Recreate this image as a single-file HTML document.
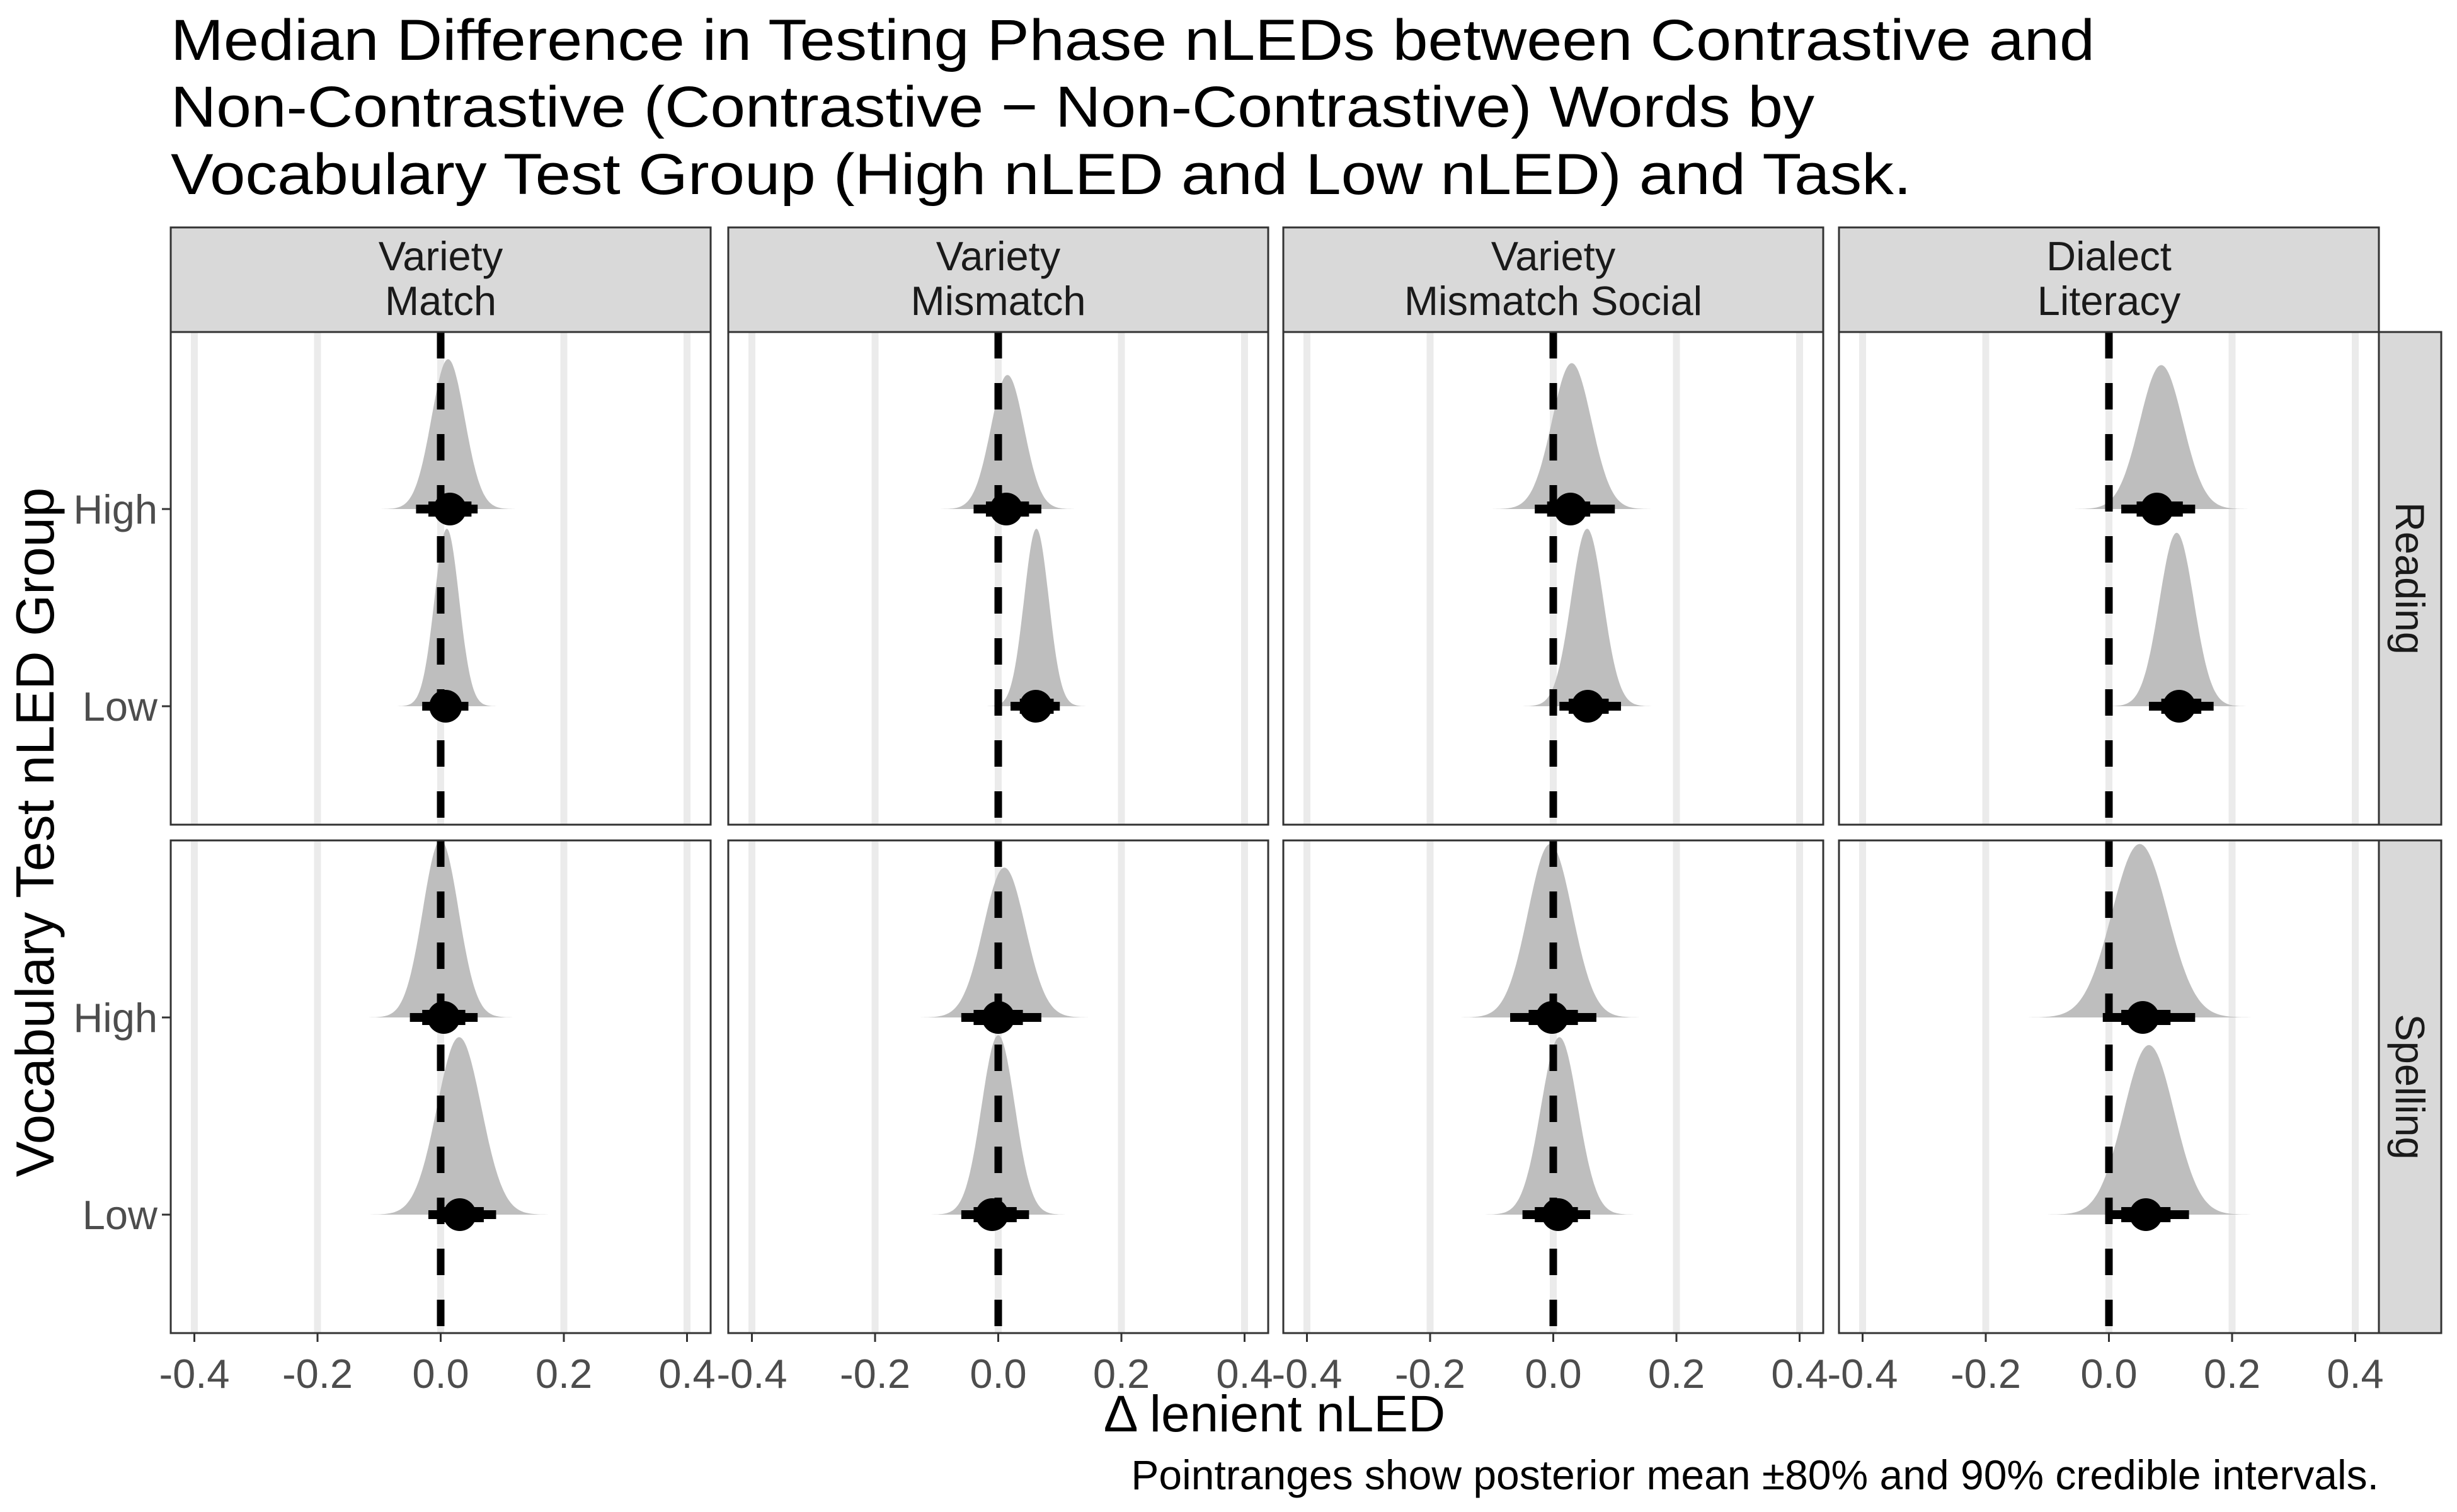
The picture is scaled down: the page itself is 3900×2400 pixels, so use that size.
<!DOCTYPE html>
<html><head><meta charset="utf-8"><style>body{margin:0;background:#fff}svg{display:block}text{font-family:"Liberation Sans",sans-serif}</style></head>
<body>
<svg id="chart" width="3900" height="2400" viewBox="0 0 3900 2400" xmlns="http://www.w3.org/2000/svg">
<rect width="3900" height="2400" fill="#fff"/>
<g font-size="92" fill="#000">
<text x="271" y="95" textLength="3054" lengthAdjust="spacingAndGlyphs">Median Difference in Testing Phase nLEDs between Contrastive and</text>
<text x="271" y="201" textLength="2609" lengthAdjust="spacingAndGlyphs">Non-Contrastive (Contrastive − Non-Contrastive) Words by</text>
<text x="271" y="308" textLength="2763" lengthAdjust="spacingAndGlyphs">Vocabulary Test Group (High nLED and Low nLED) and Task.</text>
</g>
<g id="plot"></g>
<text x="2023" y="2272" font-size="82" text-anchor="middle">Δ lenient nLED</text>
<text x="3776" y="2364" font-size="66" text-anchor="end">Pointranges show posterior mean ±80% and 90% credible intervals.</text>
<text transform="translate(85,1321) rotate(-90)" font-size="85" text-anchor="middle">Vocabulary Test nLED Group</text>
</svg>
<script>
const columns = ["Variety|Match","Variety|Mismatch","Variety|Mismatch Social","Dialect|Literacy"];
const rows = ["Reading","Spelling"];
const groups = ["High","Low"];
const xTicks = [-0.4,-0.2,0,0.2,0.4];
const xTickLabels = ["-0.4","-0.2","0.0","0.2","0.4"];
// order: row, column, group (High, Low)
const pointMean = [[[0.015,0.008],[0.013,0.061],[0.028,0.056],[0.078,0.114]],
                   [[0.005,0.031],[0.0,-0.01],[-0.002,0.008],[0.055,0.06]]];
const lo80 = [[[-0.02,-0.01],[-0.02,0.035],[-0.01,0.025],[0.045,0.085]],
              [[-0.03,0.0],[-0.04,-0.04],[-0.04,-0.03],[0.02,0.02]]];
const hi80 = [[[0.05,0.03],[0.05,0.09],[0.06,0.09],[0.12,0.15]],
              [[0.04,0.07],[0.04,0.03],[0.04,0.04],[0.1,0.1]]];
const lo90 = [[[-0.04,-0.03],[-0.04,0.02],[-0.03,0.01],[0.02,0.065]],
              [[-0.05,-0.02],[-0.06,-0.06],[-0.07,-0.05],[-0.01,0.0]]];
const hi90 = [[[0.06,0.045],[0.07,0.1],[0.1,0.11],[0.14,0.17]],
              [[0.06,0.09],[0.07,0.05],[0.07,0.06],[0.14,0.13]]];
const densPeak = [[[0.012,0.01],[0.015,0.062],[0.03,0.055],[0.085,0.11]],
                  [[0.0,0.03],[0.01,0.0],[-0.005,0.01],[0.05,0.065]]];
const densSd = [[[0.027,0.02],[0.027,0.02],[0.032,0.026],[0.035,0.028]],
                [[0.029,0.036],[0.034,0.027],[0.036,0.03],[0.045,0.041]]];
const densHeight = [[[0.76,0.9],[0.68,0.9],[0.74,0.9],[0.73,0.88]],
                    [[0.9,0.9],[0.76,0.91],[0.88,0.9],[0.88,0.86]]];

const NS="http://www.w3.org/2000/svg";
const plot=document.getElementById('plot');
const colLeft=[271,1156,2037,2919], panelW=857;
const rowTop=[527,1334], panelH=782, stripTop=361, stripBottom=527;
const groupOffset=[281,594], spacing=313;
const pxPerUnit=195.5/0.2;
function xs(c,v){return colLeft[c]+panelW/2+v*pxPerUnit;}
function ys(r,g){return rowTop[r]+groupOffset[g];}
function mk(tag,attrs,parent){const e=document.createElementNS(NS,tag);for(const k in attrs)e.setAttribute(k,attrs[k]);(parent||plot).appendChild(e);return e;}

columns.forEach((col,c)=>{
  const s=mk('g',{});
  
  
  mk('rect',{x:colLeft[c],y:stripTop,width:panelW,height:stripBottom-stripTop,fill:'#d9d9d9',stroke:'#333','stroke-width':3},s);
  const [a,b]=col.split('|');
  const t1=mk('text',{x:colLeft[c]+panelW/2,y:429,'font-size':65,'text-anchor':'middle',fill:'#1a1a1a'},s);t1.textContent=a;
  const t2=mk('text',{x:colLeft[c]+panelW/2,y:500,'font-size':65,'text-anchor':'middle',fill:'#1a1a1a'},s);t2.textContent=b;
  xTicks.forEach((v,i)=>{
    const tk=mk('line',{x1:xs(c,v),x2:xs(c,v),y1:rowTop[1]+panelH,y2:rowTop[1]+panelH+14,stroke:'#333','stroke-width':3});
    
    
    const tl=mk('text',{x:xs(c,v),y:2203,'font-size':65,'text-anchor':'middle',fill:'#4d4d4d'});
    
    
    tl.textContent=xTickLabels[i];
  });
});

rows.forEach((row,r)=>{
  const s=mk('g',{});
  
  
  mk('rect',{x:3776,y:rowTop[r],width:99,height:panelH,fill:'#d9d9d9',stroke:'#333','stroke-width':3},s);
  const cy=rowTop[r]+panelH/2;
  const t=mk('text',{transform:`translate(3803,${cy}) rotate(90)`,'font-size':65,'text-anchor':'middle',fill:'#1a1a1a'},s);t.textContent=row;
  groups.forEach((g,gi)=>{
    const y=ys(r,gi);
    const tk=mk('line',{x1:257,x2:271,y1:y,y2:y,stroke:'#333','stroke-width':3});
    
    
    const tl=mk('text',{x:250,y:y+23,'font-size':65,'text-anchor':'end',fill:'#4d4d4d'});
    
    
    tl.textContent=g;
  });
  columns.forEach((col,c)=>{
    const p=mk('g',{});
    
    
    mk('rect',{x:colLeft[c],y:rowTop[r],width:panelW,height:panelH,fill:'#fff'},p);
    xTicks.forEach(v=>{mk('line',{x1:xs(c,v),x2:xs(c,v),y1:rowTop[r],y2:rowTop[r]+panelH,stroke:'#ebebeb','stroke-width':11},p);});
    groups.forEach((g,gi)=>{
      const y=ys(r,gi), m=densPeak[r][c][gi], sd=densSd[r][c][gi], h=densHeight[r][c][gi]*spacing;
      let d=`M${xs(c,m-4*sd)},${y}`;
      for(let k=0;k<=120;k++){const v=m-4*sd+8*sd*k/120;const z=(v-m)/sd;d+=` L${xs(c,v).toFixed(1)},${(y-h*Math.exp(-0.5*z*z)).toFixed(1)}`;}
      d+=` L${xs(c,m+4*sd)},${y} Z`;
      const dp=mk('path',{d:d,fill:'#bebebe'},p);
      
      
    });
    const vl=mk('line',{x1:xs(c,0),x2:xs(c,0),y1:rowTop[r],y2:rowTop[r]+panelH,stroke:'#000','stroke-width':12,'stroke-dasharray':'42 39'},p);
    
    
    groups.forEach((g,gi)=>{
      const y=ys(r,gi);
      const i90=mk('line',{x1:xs(c,lo90[r][c][gi]),x2:xs(c,hi90[r][c][gi]),y1:y,y2:y,stroke:'#000','stroke-width':14},p);
      
      
      const i80=mk('line',{x1:xs(c,lo80[r][c][gi]),x2:xs(c,hi80[r][c][gi]),y1:y,y2:y,stroke:'#000','stroke-width':24},p);
      
      
      const pt=mk('circle',{cx:xs(c,pointMean[r][c][gi]),cy:y,r:26,fill:'#000'},p);
      
      
    });
    mk('rect',{x:colLeft[c],y:rowTop[r],width:panelW,height:panelH,fill:'none',stroke:'#333','stroke-width':3},p);
  });
});
</script>
</body></html>
